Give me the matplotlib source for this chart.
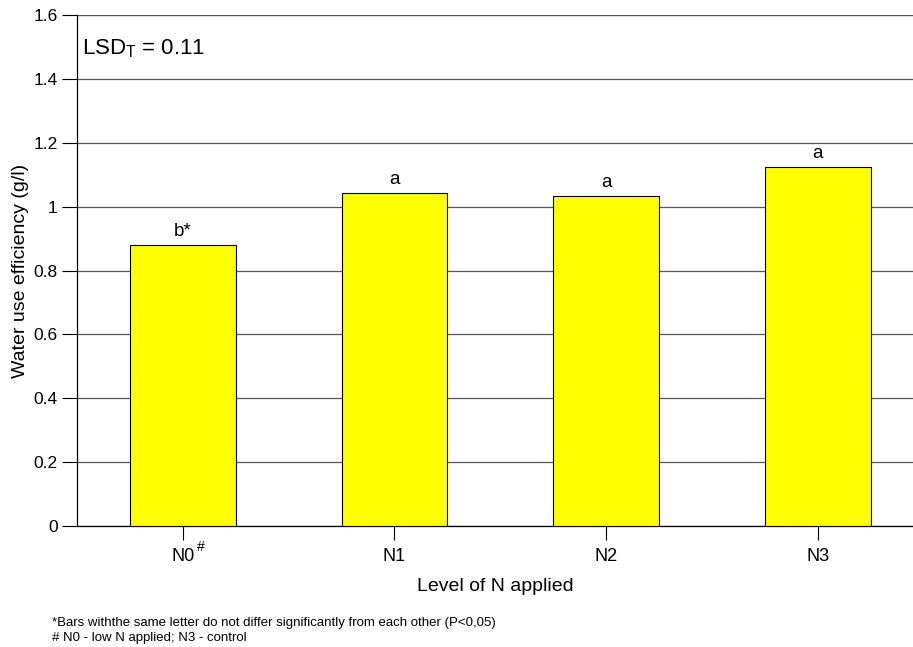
import matplotlib.pyplot as plt

plt.rcParams['font.family'] = ['Liberation Sans', 'DejaVu Sans']
plt.rcParams['mathtext.fontset'] = 'custom'
plt.rcParams['mathtext.rm'] = 'Liberation Sans'
plt.rcParams['mathtext.it'] = 'Liberation Sans'

# 数据
levels = ['N0', 'N1', 'N2', 'N3']
wue = [0.88, 1.043, 1.033, 1.124]
letters = ['b*', 'a', 'a', 'a']
y_ticks = [0, 0.2, 0.4, 0.6, 0.8, 1, 1.2, 1.4, 1.6]
y_tick_labels = ['0', '0.2', '0.4', '0.6', '0.8', '1', '1.2', '1.4', '1.6']

fig = plt.figure(figsize=(9.13, 6.47), dpi=100)
ax = fig.add_axes([0.0843, 0.187, 0.9157, 0.7898])

x = range(len(levels))
ax.bar(x, wue, width=0.5, color='#ffff00', edgecolor='black', linewidth=0.8, zorder=3)

# 柱顶显著性字母
for xi, v, s in zip(x, wue, letters):
    ax.text(xi, v + 0.028, s, ha='center', va='baseline', fontsize=13.5)

ax.set_xlim(-0.5, 3.45)
ax.set_ylim(0, 1.6)
ax.set_yticks(y_ticks)
ax.set_yticklabels(y_tick_labels, fontsize=12.5)
ax.set_xticks(list(x))
ax.set_xticklabels(levels, fontsize=13)
ax.tick_params(axis='y', length=11, width=0.8, pad=3)
ax.tick_params(axis='x', length=10, width=0.8, pad=6)

# N0 的上标
ax.annotate('#', xy=(0, 0), xycoords='data', xytext=(13, -20), textcoords='offset points',
            fontsize=10, ha='center', va='bottom', annotation_clip=False)

ax.yaxis.grid(True, color='#555555', linewidth=0.9, zorder=0)
ax.axhline(1.6, color='#777777', linewidth=1.6, zorder=1)
ax.spines['top'].set_visible(False)
ax.spines['right'].set_visible(False)
ax.spines['left'].set_linewidth(0.9)
ax.spines['bottom'].set_linewidth(0.9)

ax.set_ylabel('Water use efficiency (g/l)', fontsize=14, labelpad=3)
ax.set_xlabel('Level of N applied', fontsize=14, labelpad=9)

ax.text(0.006, 0.935, r'LSD$_\mathrm{T}$ = 0.11', transform=ax.transAxes,
        fontsize=16, ha='left', va='center')

fig.text(0.057, 1 - 623 / 647, '*Bars withthe same letter do not differ significantly from each other (P<0,05)',
         fontsize=9.5, ha='left', va='center')
fig.text(0.057, 1 - 638 / 647, '# N0 - low N applied; N3 - control',
         fontsize=9.5, ha='left', va='center')

fig.savefig('out.png', dpi=100)
